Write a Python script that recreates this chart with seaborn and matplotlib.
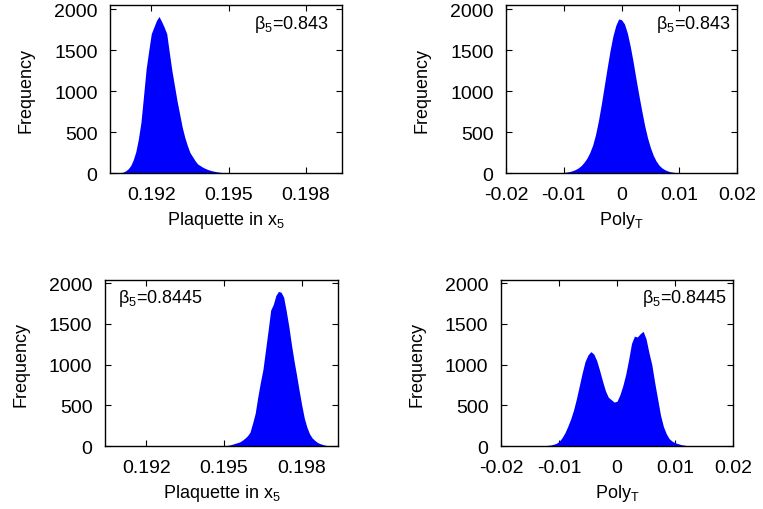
import numpy as np
import pandas as pd
import seaborn as sns
from matplotlib import pyplot as plt

# histogram bin centres and counts
plaq_843_x = [0.1908, 0.1909, 0.1910, 0.1911, 0.1912, 0.1913, 0.1914, 0.1915, 0.1916, 0.1917,
              0.1918, 0.1919, 0.1920, 0.1921, 0.1922, 0.1923, 0.1924, 0.1925, 0.1926, 0.1927,
              0.1928, 0.1929, 0.1930, 0.1931, 0.1932, 0.1933, 0.1934, 0.1935, 0.1936, 0.1937,
              0.1938, 0.1939, 0.1940, 0.1941, 0.1942, 0.1943, 0.1944, 0.1945, 0.1946, 0.1947,
              0.1948, 0.1949, 0.1950]
plaq_843_n = [5, 10, 25, 50, 90, 160, 260, 415, 620, 940,
              1270, 1490, 1700, 1780, 1860, 1910, 1850, 1780, 1700, 1470,
              1250, 1065, 880, 720, 560, 435, 335, 250, 200, 150,
              110, 90, 70, 55, 42, 32, 24, 18, 12, 8,
              5, 3, 2]

poly_843_x = [-0.0110, -0.0105, -0.0100, -0.0095, -0.0090, -0.0085, -0.0080, -0.0075, -0.0070, -0.0065,
              -0.0060, -0.0055, -0.0050, -0.0045, -0.0040, -0.0035, -0.0030, -0.0025, -0.0020, -0.0015,
              -0.0010, -0.0005, 0.0000, 0.0005, 0.0010, 0.0015, 0.0020, 0.0025, 0.0030, 0.0035,
              0.0040, 0.0045, 0.0050, 0.0055, 0.0060, 0.0065, 0.0070, 0.0075, 0.0080, 0.0085,
              0.0090, 0.0095, 0.0100]
poly_843_n = [3, 5, 8, 12, 18, 28, 42, 62, 90, 130,
              180, 250, 340, 470, 640, 840, 1060, 1280, 1490, 1670,
              1800, 1880, 1870, 1820, 1710, 1550, 1360, 1150, 950, 760,
              580, 430, 310, 215, 145, 95, 62, 40, 25, 15,
              9, 5, 3]

plaq_8445_x = [0.1949, 0.1950, 0.1951, 0.1952, 0.1953, 0.1954, 0.1955, 0.1956, 0.1957, 0.1958,
               0.1959, 0.1960, 0.1961, 0.1962, 0.1963, 0.1964, 0.1965, 0.1966, 0.1967, 0.1968,
               0.1969, 0.1970, 0.1971, 0.1972, 0.1973, 0.1974, 0.1975, 0.1976, 0.1977, 0.1978,
               0.1979, 0.1980, 0.1981, 0.1982, 0.1983, 0.1984, 0.1985, 0.1986, 0.1987, 0.1988,
               0.1989, 0.1990]
plaq_8445_n = [2, 4, 7, 12, 20, 30, 40, 50, 70, 95,
               125, 170, 280, 400, 600, 780, 940, 1180, 1420, 1670,
               1740, 1850, 1900, 1890, 1830, 1660, 1470, 1250, 1050, 870,
               680, 500, 340, 230, 150, 100, 70, 45, 30, 20,
               10, 5]

poly_8445_x = [-0.0135, -0.0130, -0.0125, -0.0120, -0.0115, -0.0110, -0.0105, -0.0100, -0.0095, -0.0090,
               -0.0085, -0.0080, -0.0075, -0.0070, -0.0065, -0.0060, -0.0055, -0.0050, -0.0045, -0.0040,
               -0.0035, -0.0030, -0.0025, -0.0020, -0.0015, -0.0010, -0.0005, 0.0000, 0.0005, 0.0010,
               0.0015, 0.0020, 0.0025, 0.0030, 0.0035, 0.0040, 0.0045, 0.0050, 0.0055, 0.0060,
               0.0065, 0.0070, 0.0075, 0.0080, 0.0085, 0.0090, 0.0095, 0.0100, 0.0105, 0.0110,
               0.0115, 0.0120, 0.0125]
poly_8445_n = [2, 3, 5, 8, 12, 20, 32, 55, 100, 160,
               240, 330, 440, 580, 740, 900, 1040, 1120, 1160, 1130,
               1050, 930, 800, 680, 600, 570, 540, 550, 630, 740,
               880, 1060, 1260, 1350, 1340, 1380, 1410, 1320, 1150, 1000,
               780, 580, 380, 240, 150, 90, 60, 40, 30, 18,
               12, 6, 3]

plaq_ticks = [0.192, 0.195, 0.198]
plaq_labels = ["0.192", "0.195", "0.198"]
poly_ticks = [-0.02, -0.01, 0, 0.01, 0.02]
poly_labels = ["-0.02", "-0.01", "0", "0.01", "0.02"]
y_ticks = [0, 500, 1000, 1500, 2000]

panels = [
    (plaq_843_x, plaq_843_n, 0.0001, "Plaquette in x$_5$", r"β$_5$=0.843", "right"),
    (poly_843_x, poly_843_n, 0.0005, "Poly$_T$", r"β$_5$=0.843", "right"),
    (plaq_8445_x, plaq_8445_n, 0.0001, "Plaquette in x$_5$", r"β$_5$=0.8445", "left"),
    (poly_8445_x, poly_8445_n, 0.0005, "Poly$_T$", r"β$_5$=0.8445", "right"),
]

sns.set_style("ticks")
plt.rcParams['font.family'] = ['Liberation Sans', 'DejaVu Sans']
plt.rcParams['mathtext.default'] = 'regular'
for key in ["text.color", "axes.labelcolor", "xtick.color", "ytick.color"]:
    plt.rcParams[key] = "black"

fig = plt.figure(figsize=(7.63, 5.10), dpi=100)
rects = [[0.1442, 0.6588, 0.3041, 0.3294],
         [0.6632, 0.6588, 0.3028, 0.3294],
         [0.1376, 0.1235, 0.3054, 0.3255],
         [0.6566, 0.1235, 0.3041, 0.3255]]

for i, (xs, ns, w, xlabel, note, side) in enumerate(panels):
    ax = fig.add_axes(rects[i])
    df = pd.DataFrame({"x": xs, "n": ns})
    lo = xs[0] - w / 2
    hi = xs[-1] + w / 2
    sns.histplot(data=df, x="x", weights="n", binwidth=w, binrange=(lo, hi),
                 element="poly", fill=True, color=(0, 0, 1), alpha=1,
                 linewidth=0, ax=ax)
    if i % 2 == 0:
        ax.set_xlim(0.1904, 0.1994)
        ax.set_xticks(plaq_ticks, plaq_labels)
    else:
        ax.set_xlim(-0.02, 0.02)
        ax.set_xticks(poly_ticks, poly_labels)
    ax.set_ylim(0, 2050 if i < 2 else 2040)
    ax.set_yticks(y_ticks)
    ax.tick_params(direction="in", length=4, width=0.8, top=True, right=True,
                   labelsize=14, pad=9, color="black", labelcolor="black")
    for sp in ax.spines.values():
        sp.set_visible(True)
        sp.set_color("black")
        sp.set_linewidth(1.0)
    ax.set_xlabel(xlabel, fontsize=13, labelpad=5, color="black")
    ax.set_ylabel("Frequency", fontsize=13, labelpad=14, color="black")
    if side == "right":
        ax.text(0.975 if i % 2 else 0.945, 0.955, note, transform=ax.transAxes,
                ha="right", va="top", fontsize=13, color="black")
    else:
        ax.text(0.055, 0.955, note, transform=ax.transAxes, ha="left", va="top",
                fontsize=13, color="black")

plt.savefig("out.png", dpi=100)
